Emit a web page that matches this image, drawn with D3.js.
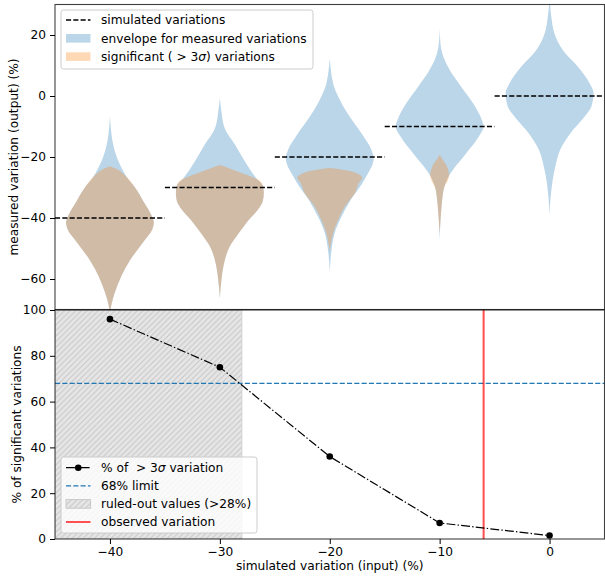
<!DOCTYPE html>
<html><head><meta charset="utf-8">
<script src="https://cdn.jsdelivr.net/npm/d3@7"></script>
<style>
body{margin:0;background:#fff}
text{font-family:"DejaVu Sans",sans-serif;fill:#000;white-space:pre}
</style>
</head><body>
<svg id="chart" width="605" height="578"></svg>
<script>
// ---------------- DATA ----------------
const simulated = [-40, -30, -20, -10, 0];
// KDE profiles: [measured variation (%), relative density]
const envelope = [
  [[-6.5,0],[-12,0.03],[-17,0.09],[-21,0.18],[-24,0.28],[-27,0.4],[-30,0.57],[-35,0.78],[-39,0.94],[-41.5,1.0],[-43.5,0.97],[-48,0.75],[-54,0.45],[-59,0.26],[-64.5,0.11],[-68,0.04],[-71,0]],
  [[-0.75,0],[-5,0.035],[-10.6,0.11],[-16.1,0.35],[-21.5,0.57],[-27,0.83],[-29.7,0.985],[-32,1.0],[-34.6,0.975],[-36.8,0.89],[-41.2,0.625],[-45.6,0.4],[-49.9,0.205],[-54.3,0.105],[-59.8,0.04],[-66.3,0]],
  [[12.4,0],[8,0.03],[4.2,0.075],[-1.3,0.23],[-6.8,0.455],[-12.2,0.72],[-17.7,0.95],[-20.5,1.0],[-22.5,0.97],[-25.3,0.87],[-28.6,0.74],[-34.1,0.475],[-39.6,0.265],[-45,0.11],[-50.5,0.04],[-58,0]],
  [[22.2,0],[17,0.02],[14,0.06],[8.5,0.23],[3.05,0.49],[-2.4,0.76],[-7.9,0.96],[-10,1.0],[-13.3,0.89],[-18.8,0.605],[-24.3,0.3],[-26.5,0.2],[-29.7,0.11],[-35.2,0.05],[-40.7,0.02],[-47.2,0]],
  [[32,0],[26,0.04],[20.6,0.11],[15.1,0.3],[9.6,0.645],[4.2,0.91],[1,1.0],[-3.5,0.95],[-6.8,0.795],[-12.2,0.475],[-17.7,0.24],[-23.2,0.13],[-28.6,0.06],[-34.1,0.02],[-38.9,0]]
];
const significant = [
  [[-23.0,0],[-23.6,0.1],[-24.5,0.22],[-26,0.34],[-28,0.47],[-30,0.57],[-35,0.78],[-39,0.94],[-41.5,1.0],[-43.5,0.97],[-48,0.75],[-54,0.45],[-59,0.26],[-64.5,0.11],[-68,0.04],[-71,0]],
  [[-22.6,0],[-23.5,0.175],[-25,0.45],[-26.5,0.725],[-28,0.925],[-29.7,0.985],[-32,1.0],[-34.6,0.975],[-36.8,0.89],[-41.2,0.625],[-45.6,0.4],[-49.9,0.205],[-54.3,0.105],[-59.8,0.04],[-66.3,0]],
  [[-23.6,0],[-24.0,0.22],[-24.6,0.45],[-25.4,0.62],[-26.8,0.74],[-28.6,0.66],[-31.9,0.57],[-36.3,0.34],[-39.6,0.225],[-43,0.12],[-47,0.045],[-51,0]],
  [[-19.3,0],[-20.5,0.05],[-22,0.125],[-24,0.19],[-26,0.215],[-27.5,0.19],[-29.7,0.11],[-32,0.075],[-35.2,0.05],[-40.7,0.02],[-45,0]],
  []
];
const pctSignificant = [96, 75, 36, 7, 1.5];
const limit68 = 68;
const ruledOutMax = -28;
const observed = -6;
const xTicks = [-40, -30, -20, -10, 0];
const yTopTicks = [-60, -40, -20, 0, 20];
const yBotTicks = [0, 20, 40, 60, 80, 100];

// ---------------- LAYOUT ----------------
const FS = 12.2;
const L = 55, R = 604.5;
const topT = 4.5, topB = 309.5, botT = 310, botB = 539;
const halfW = 4; // violin half width in x units

const svg = d3.select("#chart");
const defs = svg.append("defs");
const x = d3.scaleLinear().domain([-45, 5]).range([L, R]);
const yTop = d3.scaleLinear().domain([-70, 30]).range([topB, topT]);
const yBot = d3.scaleLinear().domain([0, 100]).range([botB, botT]);

defs.append("clipPath").attr("id","clipTop").append("rect")
  .attr("x",L).attr("y",topT).attr("width",R-L).attr("height",topB-topT);
defs.append("clipPath").attr("id","clipBot").append("rect")
  .attr("x",L).attr("y",botT).attr("width",R-L).attr("height",botB-botT);

// hatch pattern
const pat = defs.append("pattern").attr("id","hatch").attr("patternUnits","userSpaceOnUse")
  .attr("width",5.6).attr("height",5.6);
pat.append("rect").attr("width",5.6).attr("height",5.6).attr("fill","#e6e6e6");
pat.append("path").attr("d","M-1,6.6 L6.6,-1 M-1,1 L1,-1 M4.6,6.6 L6.6,4.6")
  .attr("stroke","#c6c6c6").attr("stroke-width",1);

// ---------------- TOP PANEL ----------------
const gTop = svg.append("g").attr("clip-path","url(#clipTop)");
const area = (c) => d3.area()
  .y(d => yTop(d[0]))
  .x0(d => x(c - d[1]*halfW))
  .x1(d => x(c + d[1]*halfW))
  .curve(d3.curveMonotoneY);

simulated.forEach((c, i) => {
  gTop.append("path").attr("d", area(c)(envelope[i]))
    .attr("fill","#1f77b4").attr("fill-opacity",0.3);
  if (significant[i].length)
    gTop.append("path").attr("d", area(c)(significant[i]))
      .attr("fill","#ff7f0e").attr("fill-opacity",0.3);
});
simulated.forEach(c => {
  gTop.append("line").attr("x1",x(c-5)).attr("x2",x(c+5))
    .attr("y1",yTop(c)).attr("y2",yTop(c))
    .attr("stroke","#000").attr("stroke-width",1.4).attr("stroke-dasharray","5.1,2.2");
});

// ---------------- BOTTOM PANEL ----------------
const gBot = svg.append("g").attr("clip-path","url(#clipBot)");
gBot.append("rect").attr("x",x(-45)).attr("y",botT).attr("width",x(ruledOutMax)-x(-45))
  .attr("height",botB-botT).attr("fill","url(#hatch)").attr("stroke","#d0d0d0").attr("stroke-width",1);
gBot.append("line").attr("x1",L).attr("x2",R).attr("y1",yBot(limit68)).attr("y2",yBot(limit68))
  .attr("stroke","#1f77b4").attr("stroke-width",1.3).attr("stroke-dasharray","5.1,2.2");
gBot.append("line").attr("x1",x(observed)).attr("x2",x(observed)).attr("y1",botT).attr("y2",botB)
  .attr("stroke","#ff0000").attr("stroke-opacity",0.7).attr("stroke-width",2);
const pts = simulated.map((c,i)=>[c,pctSignificant[i]]);
gBot.append("path").attr("d", d3.line().x(d=>x(d[0])).y(d=>yBot(d[1]))(pts))
  .attr("fill","none").attr("stroke","#000").attr("stroke-width",1.2)
  .attr("stroke-dasharray","8.9,2.2,1.4,2.2");
gBot.selectAll("circle.pt").data(pts).enter().append("circle")
  .attr("cx",d=>x(d[0])).attr("cy",d=>yBot(d[1])).attr("r",3.3).attr("fill","#000");

// ---------------- AXES ----------------
function styleAxis(g){
  g.select(".domain").remove();
  g.selectAll(".tick line").attr("stroke","#000").attr("stroke-width",1);
  g.selectAll(".tick text").attr("font-size",FS).attr("fill","#000")
    .attr("font-family","DejaVu Sans");
}
svg.append("g").attr("transform",`translate(${L},0)`)
  .call(d3.axisLeft(yTop).tickValues(yTopTicks).tickSize(5).tickPadding(4))
  .call(styleAxis);
svg.append("g").attr("transform",`translate(${L},0)`)
  .call(d3.axisLeft(yBot).tickValues(yBotTicks).tickSize(5).tickPadding(4))
  .call(styleAxis);
svg.append("g").attr("transform",`translate(0,${botB})`)
  .call(d3.axisBottom(x).tickValues(xTicks).tickSize(5).tickPadding(3))
  .call(styleAxis);

// frames
[[topT, topB],[botT, botB]].forEach(([t,b])=>{
  svg.append("rect").attr("x",L).attr("y",t).attr("width",R-L).attr("height",b-t)
    .attr("fill","none").attr("stroke","#000").attr("stroke-width",1.1).attr("stroke-opacity",0.75);
});

// axis labels
svg.append("text").attr("transform",`translate(14,${(topT+topB)/2}) rotate(-90)`)
  .attr("text-anchor","middle").attr("dy","0.35em").attr("font-size",FS)
  .text("measured variation (output) (%)");
svg.append("text").attr("transform",`translate(16.5,${(botT+botB)/2}) rotate(-90)`)
  .attr("text-anchor","middle").attr("dy","0.35em").attr("font-size",FS)
  .text("% of significant variations");
svg.append("text").attr("x",(L+R)/2).attr("y",566).attr("dy","0.35em")
  .attr("text-anchor","middle").attr("font-size",FS)
  .text("simulated variation (input) (%)");

// ---------------- LEGENDS ----------------
function legendBox(x0,y0,w,h){
  svg.append("rect").attr("x",x0).attr("y",y0).attr("width",w).attr("height",h)
    .attr("rx",2.5).attr("fill","#fff").attr("fill-opacity",0.8)
    .attr("stroke","#cccccc").attr("stroke-width",1);
}
function legendText(xp, yp, parts){
  const t = svg.append("text").attr("x",xp).attr("y",yp).attr("dy","0.35em").attr("font-size",FS);
  parts.forEach(p => {
    const s = t.append("tspan").text(p.t);
    if (p.i) s.attr("font-style","italic");
  });
}
const hx0 = 66, hx1 = 90.5, tx = 101;
// top legend
legendBox(61, 10, 252, 59);
const tr = [20, 38.3, 56.6];
svg.append("line").attr("x1",hx0).attr("x2",hx1).attr("y1",tr[0]).attr("y2",tr[0])
  .attr("stroke","#000").attr("stroke-width",1.4).attr("stroke-dasharray","5.1,2.2");
svg.append("rect").attr("x",hx0).attr("y",tr[1]-4.3).attr("width",hx1-hx0).attr("height",8.6)
  .attr("fill","#1f77b4").attr("fill-opacity",0.3);
svg.append("rect").attr("x",hx0).attr("y",tr[2]-4.3).attr("width",hx1-hx0).attr("height",8.6)
  .attr("fill","#ff7f0e").attr("fill-opacity",0.3);
legendText(tx,tr[0],[{t:"simulated variations"}]);
legendText(tx,tr[1],[{t:"envelope for measured variations"}]);
legendText(tx,tr[2],[{t:"significant ( > 3"},{t:"σ",i:true},{t:") variations"}]);

// bottom legend
legendBox(61, 457, 196, 76);
const br = [467.7, 485.8, 503.9, 522];
svg.append("line").attr("x1",hx0).attr("x2",hx1).attr("y1",br[0]).attr("y2",br[0])
  .attr("stroke","#000").attr("stroke-width",1.2).attr("stroke-dasharray","8.9,2.2,1.4,2.2");
svg.append("circle").attr("cx",(hx0+hx1)/2).attr("cy",br[0]).attr("r",3.3).attr("fill","#000");
svg.append("line").attr("x1",hx0).attr("x2",hx1).attr("y1",br[1]).attr("y2",br[1])
  .attr("stroke","#1f77b4").attr("stroke-width",1.3).attr("stroke-dasharray","5.1,2.2");
svg.append("rect").attr("x",hx0).attr("y",br[2]-4.3).attr("width",hx1-hx0).attr("height",8.6)
  .attr("fill","url(#hatch)").attr("stroke","#c8c8c8").attr("stroke-width",1);
svg.append("line").attr("x1",hx0).attr("x2",hx1).attr("y1",br[3]).attr("y2",br[3])
  .attr("stroke","#ff0000").attr("stroke-opacity",0.85).attr("stroke-width",1.6);
legendText(tx,br[0],[{t:"% of  > 3"},{t:"σ",i:true},{t:" variation"}]);
legendText(tx,br[1],[{t:"68% limit"}]);
legendText(tx,br[2],[{t:"ruled-out values (>28%)"}]);
legendText(tx,br[3],[{t:"observed variation"}]);
</script>
</body></html>
